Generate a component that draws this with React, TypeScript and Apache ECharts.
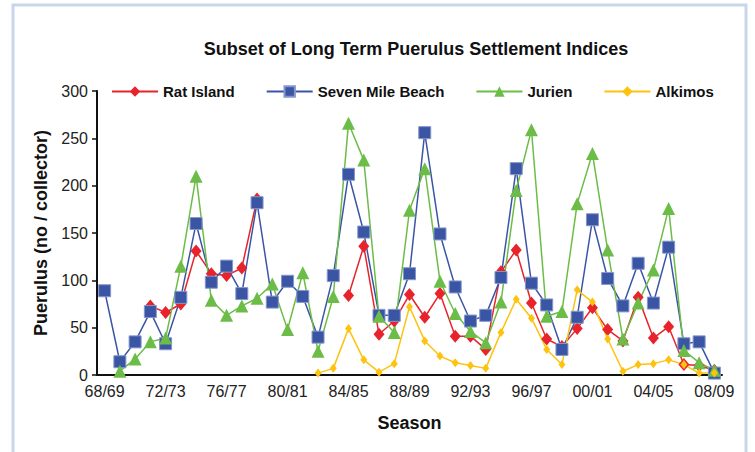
import React, { useEffect, useRef } from "react";
import * as echarts from "echarts";

const seasons = [
  "68/69", "69/70", "70/71", "71/72", "72/73", "73/74", "74/75", "75/76", "76/77", "77/78",
  "78/79", "79/80", "80/81", "81/82", "82/83", "83/84", "84/85", "85/86", "86/87", "87/88",
  "88/89", "89/90", "90/91", "91/92", "92/93", "93/94", "94/95", "95/96", "96/97", "97/98",
  "98/99", "99/00", "00/01", "01/02", "02/03", "03/04", "04/05", "05/06", "06/07", "07/08",
  "08/09",
];

const ratIsland = [
  null, null, null, 73, 66, 75, 131, 107, 105, 113,
  186, null, null, null, null, null, 84, 136, 43, 57,
  85, 61, 86, 41, 41, 27, 109, 132, 76, 38,
  30, 49, 71, 48, 36, 82, 39, 51, 11, 10,
  5,
];

const sevenMileBeach = [
  89, 14, 35, 67, 33, 82, 160, 98, 115, 86,
  182, 77, 99, 83, 40, 105, 212, 151, 63, 63,
  107, 256, 149, 93, 57, 63, 103, 218, 97, 74,
  27, 61, 164, 102, 73, 118, 76, 135, 33, 35,
  2,
];

const jurien = [
  null, 4, 17, 35, 39, 115, 210, 79, 63, 73,
  81, 96, 48, 108, 25, 83, 266, 227, 62, 45,
  174, 218, 99, 65, 46, 34, 77, 195, 259, 62,
  67, 181, 234, 132, 38, 76, 111, 176, 26, 13,
  5,
];

const alkimos = [
  null, null, null, null, null, null, null, null, null, null,
  null, null, null, null, 2, 7, 49, 16, 3, 12,
  72, 36, 20, 13, 10, 7, 45, 80, 60, 27,
  11, 90, 77, 38, 4, 11, 12, 16, 11, 2,
  2,
];

const yTicks = { min: 0, max: 300, interval: 50 };

const FONT = "'Liberation Sans', Arial, Helvetica, sans-serif";

export default function App() {
  const ref = useRef<HTMLDivElement>(null);

  useEffect(() => {
    if (!ref.current) return;
    const chart = echarts.init(ref.current, null, { renderer: "svg" });
    const lineSeries = (
      name: string,
      data: (number | null)[],
      color: string,
      symbol: string,
      symbolSize: number | number[],
      border?: string
    ) => ({
      name,
      type: "line",
      data,
      symbol,
      symbolSize,
      showAllSymbol: true,
      connectNulls: false,
      lineStyle: { color, width: 1.5 },
      itemStyle: border
        ? { color, borderColor: border, borderWidth: 1 }
        : { color, borderWidth: 0 },
      emphasis: { disabled: true },
    });

    chart.setOption({
      animation: false,
      backgroundColor: "#ffffff",
      textStyle: { fontFamily: FONT },
      title: {
        text: "Subset of Long Term Puerulus Settlement Indices",
        left: 411,
        textAlign: "center",
        top: 35,
        textStyle: { fontFamily: FONT, fontSize: 18, fontWeight: "bold", color: "#111" },
      },
      legend: {
        left: 106,
        top: 79,
        itemWidth: 46,
        itemHeight: 13,
        itemGap: 31,
        textStyle: { fontFamily: FONT, fontSize: 15, fontWeight: "bold", color: "#111" },
        data: ["Rat Island", "Seven Mile Beach", "Jurien", "Alkimos"],
      },
      grid: { left: 97, right: 33, top: 91, bottom: 77, containLabel: false },
      xAxis: {
        type: "category",
        data: seasons,
        boundaryGap: true,
        name: "Season",
        nameLocation: "middle",
        nameGap: 39,
        nameTextStyle: { fontFamily: FONT, fontSize: 18, fontWeight: "bold", color: "#111" },
        axisLine: { lineStyle: { color: "#111", width: 2 } },
        axisTick: { interval: 0, length: 5, lineStyle: { color: "#111", width: 1.5 } },
        axisLabel: { interval: 3, margin: 8, fontFamily: FONT, fontSize: 16, color: "#222" },
        splitLine: { show: false },
      },
      yAxis: {
        type: "value",
        min: yTicks.min,
        max: yTicks.max,
        interval: yTicks.interval,
        name: "Puerulus (no / collector)",
        nameLocation: "middle",
        nameGap: 47,
        nameTextStyle: { fontFamily: FONT, fontSize: 18, fontWeight: "bold", color: "#111" },
        axisLine: { show: true, lineStyle: { color: "#111", width: 2 } },
        axisTick: { show: true, length: 5, lineStyle: { color: "#111", width: 1.5 } },
        axisLabel: { margin: 9, fontFamily: FONT, fontSize: 16, color: "#222" },
        splitLine: { show: false },
      },
      graphic: [
        {
          type: "rect",
          shape: { x: 13, y: 5, width: 733, height: 470 },
          style: { fill: "none", stroke: "#c7d6ea", lineWidth: 3 },
          silent: true,
        },
      ],
      series: [
        lineSeries("Rat Island", ratIsland, "#e8232b", "diamond", [11, 13]),
        lineSeries("Seven Mile Beach", sevenMileBeach, "#3b55a5", "rect", 12, "#8596cc"),
        lineSeries("Jurien", jurien, "#6cbd48", "triangle", 13),
        lineSeries("Alkimos", alkimos, "#fec210", "diamond", [7, 9]),
      ],
    });
    return () => chart.dispose();
  }, []);

  return (
    <div
      ref={ref}
      style={{ position: "fixed", left: 0, top: 0, width: 755, height: 452, background: "#fff" }}
    />
  );
}
